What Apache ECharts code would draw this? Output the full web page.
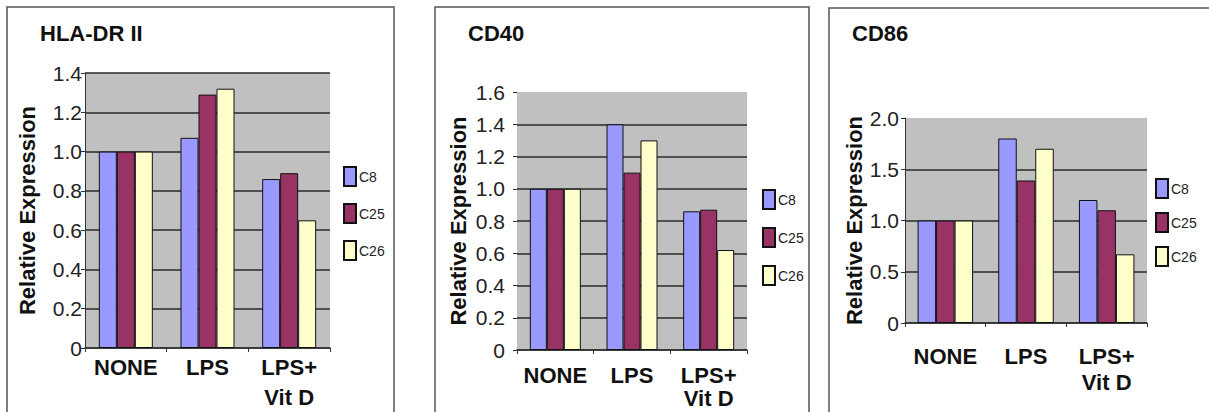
<!DOCTYPE html>
<html>
<head>
<meta charset="utf-8">
<script src="https://cdn.jsdelivr.net/npm/echarts@6/dist/echarts.min.js"></script>
<style>
html,body{margin:0;padding:0;background:#fff;}
#chart{width:1209px;height:412px;}
</style>
</head>
<body>
<div id="chart"></div>
<script>
// ---- data ----
const categories = ['NONE', 'LPS', 'LPS+\nVit D'];
const seriesNames = ['C8', 'C25', 'C26'];
const panelTitles = ['HLA-DR II', 'CD40', 'CD86'];
const yAxisName = 'Relative Expression';
const hlaC8 = [1.00, 1.07, 0.86];
const hlaC25 = [1.00, 1.29, 0.89];
const hlaC26 = [1.00, 1.32, 0.65];
const cd40C8 = [1.00, 1.40, 0.86];
const cd40C25 = [1.00, 1.10, 0.87];
const cd40C26 = [1.00, 1.30, 0.62];
const cd86C8 = [1.00, 1.80, 1.20];
const cd86C25 = [1.00, 1.39, 1.10];
const cd86C26 = [1.00, 1.70, 0.67];
const yMax = [1.4, 1.6, 2.0];
const yStep = [0.2, 0.2, 0.5];

// ---- layout / style ----
const FONT = "'Liberation Sans', Arial, sans-serif";
const colors = ['#9999FF', '#993366', '#FFFFCC'];
const grids = [
  {left: 85, top: 73, width: 245, height: 278},
  {left: 517, top: 92, width: 230, height: 258},
  {left: 905, top: 118, width: 242, height: 205}
];
const titlePos = [[40, 22], [468, 22], [852, 22]];
const legendPos = [[343, 166], [762, 189], [1155, 178]];
const legendGap = [16, 17, 13];
const nameGap = [47, 48, 37];
const yLabelMargin = [3, 12, 6];
const xLabelMargin = [4, 14, 20];
const xLineHeight = [30, 23, 26];
const barW = [18, 17, 18.5];
const showYLine = [true, false, true];
const showTopLine = [true, false, false];
const panelData = [[hlaC8, hlaC25, hlaC26], [cd40C8, cd40C25, cd40C26], [cd86C8, cd86C25, cd86C26]];

function lineColors(i) {
  const n = Math.round(yMax[i] / yStep[i]) + 1;
  const arr = [];
  for (let k = 0; k < n; k++) arr.push('#2a2a2a');
  if (!showTopLine[i]) arr[n - 1] = 'rgba(0,0,0,0)';
  return arr;
}

const option = {
  animation: false,
  textStyle: {fontFamily: FONT},
  title: panelTitles.map((t, i) => ({
    text: t, left: titlePos[i][0], top: titlePos[i][1], padding: 0,
    textStyle: {fontFamily: FONT, fontSize: 22, fontWeight: 'bold', color: '#111'}
  })),
  legend: [0, 1, 2].map(i => ({
    data: seriesNames, orient: 'vertical', left: legendPos[i][0], top: legendPos[i][1],
    padding: 0, itemWidth: 12, itemHeight: 19, itemGap: legendGap[i], icon: 'rect',
    selectedMode: false,
    textStyle: {fontFamily: FONT, fontSize: 14, color: '#222', padding: [0, 0, 0, -2]}
  })),
  grid: grids.map(g => Object.assign({show: true, backgroundColor: '#C0C0C0', borderWidth: 0}, g)),
  xAxis: [0, 1, 2].map(i => ({
    type: 'category', gridIndex: i, data: categories,
    axisLine: {show: true, lineStyle: {color: '#333', width: 1.5}},
    axisTick: {show: true, length: 4, lineStyle: {color: '#333'}},
    axisLabel: {margin: xLabelMargin[i], fontFamily: FONT, fontSize: 22, fontWeight: 'bold',
      lineHeight: xLineHeight[i], color: '#111', interval: 0}
  })),
  yAxis: [0, 1, 2].map(i => ({
    type: 'value', gridIndex: i, min: 0, max: yMax[i], interval: yStep[i],
    name: yAxisName, nameLocation: 'middle', nameGap: nameGap[i],
    nameTextStyle: {fontFamily: FONT, fontSize: 22, fontWeight: 'bold', color: '#111'},
    axisLine: {show: showYLine[i], lineStyle: {color: '#333', width: 1}},
    axisTick: {show: true, length: 4, lineStyle: {color: '#333'}},
    axisLabel: {margin: yLabelMargin[i], fontFamily: FONT, fontSize: 21, color: '#222',
      formatter: v => v === 0 ? '0' : v.toFixed(1)},
    splitLine: {show: true, lineStyle: {color: lineColors(i), width: 1.5}}
  })),
  series: [],
  graphic: [
    {type: 'rect', shape: {x: 7, y: 7, width: 387, height: 430}, style: {fill: 'none', stroke: '#555', lineWidth: 1.5}, z: 100},
    {type: 'rect', shape: {x: 435, y: 7, width: 374, height: 430}, style: {fill: 'none', stroke: '#555', lineWidth: 1.5}, z: 100},
    {type: 'rect', shape: {x: 829, y: 8, width: 420, height: 430}, style: {fill: 'none', stroke: '#555', lineWidth: 1.5}, z: 100}
  ]
};

panelData.forEach((sets, p) => {
  sets.forEach((vals, s) => {
    option.series.push({
      type: 'bar', name: seriesNames[s], xAxisIndex: p, yAxisIndex: p,
      data: vals, barWidth: barW[p], barGap: '0%',
      itemStyle: {color: colors[s], borderColor: '#111', borderWidth: 1}
    });
  });
});

const chart = echarts.init(document.getElementById('chart'), null, {renderer: 'svg'});
chart.setOption(option);
</script>
</body>
</html>
